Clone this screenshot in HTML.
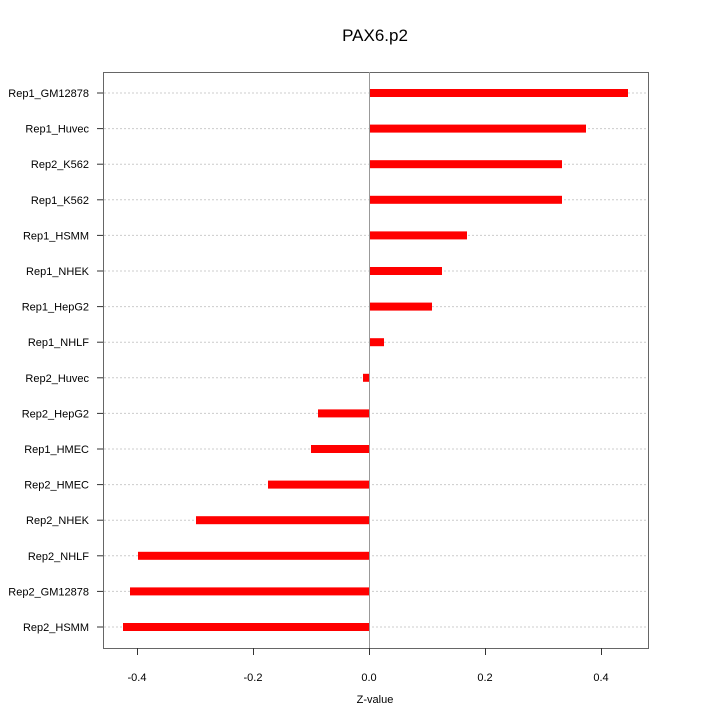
<!DOCTYPE html>
<html><head><style>body{margin:0;background:#fff}</style></head><body>
<svg width="720" height="720" xmlns="http://www.w3.org/2000/svg" font-family="Liberation Sans, sans-serif">
<rect width="720" height="720" fill="#fff"/>
<text x="375" y="41" font-size="17" text-anchor="middle">PAX6.p2</text>
<g stroke="#ccc" stroke-dasharray="2,2">
<line x1="104" x2="648" y1="93" y2="93"/><line x1="104" x2="648" y1="128.6" y2="128.6"/><line x1="104" x2="648" y1="164.2" y2="164.2"/><line x1="104" x2="648" y1="199.8" y2="199.8"/><line x1="104" x2="648" y1="235.4" y2="235.4"/><line x1="104" x2="648" y1="271" y2="271"/><line x1="104" x2="648" y1="306.6" y2="306.6"/><line x1="104" x2="648" y1="342.2" y2="342.2"/><line x1="104" x2="648" y1="377.8" y2="377.8"/><line x1="104" x2="648" y1="413.4" y2="413.4"/><line x1="104" x2="648" y1="449" y2="449"/><line x1="104" x2="648" y1="484.6" y2="484.6"/><line x1="104" x2="648" y1="520.2" y2="520.2"/><line x1="104" x2="648" y1="555.8" y2="555.8"/><line x1="104" x2="648" y1="591.4" y2="591.4"/><line x1="104" x2="648" y1="627" y2="627"/>
</g>
<g fill="#f00">
<rect x="369.5" y="89" width="258.5" height="8"/>
<rect x="369.5" y="124.6" width="216.5" height="8"/>
<rect x="369.5" y="160.2" width="192.5" height="8"/>
<rect x="369.5" y="195.8" width="192.5" height="8"/>
<rect x="369.5" y="231.4" width="97.5" height="8"/>
<rect x="369.5" y="267" width="72.5" height="8"/>
<rect x="369.5" y="302.6" width="62.5" height="8"/>
<rect x="369.5" y="338.2" width="14.5" height="8"/>
<rect x="363" y="373.8" width="6.5" height="8"/>
<rect x="318" y="409.4" width="51.5" height="8"/>
<rect x="311" y="445" width="58.5" height="8"/>
<rect x="268" y="480.6" width="101.5" height="8"/>
<rect x="196" y="516.2" width="173.5" height="8"/>
<rect x="138" y="551.8" width="231.5" height="8"/>
<rect x="130" y="587.4" width="239.5" height="8"/>
<rect x="123" y="623" width="246.5" height="8"/>
</g>
<g stroke="#333">
<line x1="97" x2="103" y1="93" y2="93"/><line x1="97" x2="103" y1="128.6" y2="128.6"/><line x1="97" x2="103" y1="164.2" y2="164.2"/><line x1="97" x2="103" y1="199.8" y2="199.8"/><line x1="97" x2="103" y1="235.4" y2="235.4"/><line x1="97" x2="103" y1="271" y2="271"/><line x1="97" x2="103" y1="306.6" y2="306.6"/><line x1="97" x2="103" y1="342.2" y2="342.2"/><line x1="97" x2="103" y1="377.8" y2="377.8"/><line x1="97" x2="103" y1="413.4" y2="413.4"/><line x1="97" x2="103" y1="449" y2="449"/><line x1="97" x2="103" y1="484.6" y2="484.6"/><line x1="97" x2="103" y1="520.2" y2="520.2"/><line x1="97" x2="103" y1="555.8" y2="555.8"/><line x1="97" x2="103" y1="591.4" y2="591.4"/><line x1="97" x2="103" y1="627" y2="627"/>
</g>
<g font-size="11" text-anchor="end">
<text x="89" y="97">Rep1_GM12878</text><text x="89" y="132.6">Rep1_Huvec</text><text x="89" y="168.2">Rep2_K562</text><text x="89" y="203.8">Rep1_K562</text><text x="89" y="239.4">Rep1_HSMM</text><text x="89" y="275">Rep1_NHEK</text><text x="89" y="310.6">Rep1_HepG2</text><text x="89" y="346.2">Rep1_NHLF</text><text x="89" y="381.8">Rep2_Huvec</text><text x="89" y="417.4">Rep2_HepG2</text><text x="89" y="453">Rep1_HMEC</text><text x="89" y="488.6">Rep2_HMEC</text><text x="89" y="524.2">Rep2_NHEK</text><text x="89" y="559.8">Rep2_NHLF</text><text x="89" y="595.4">Rep2_GM12878</text><text x="89" y="631">Rep2_HSMM</text>
</g>
<rect x="103.5" y="72.5" width="545" height="576" fill="none" stroke="#666" stroke-width="1"/>
<line x1="369.5" y1="72" x2="369.5" y2="648" stroke="#999" stroke-width="1"/>
<g stroke="#333">
<line x1="137.5" y1="648" x2="137.5" y2="655"/>
<line x1="253.5" y1="648" x2="253.5" y2="655"/>
<line x1="369.5" y1="648" x2="369.5" y2="655"/>
<line x1="485.5" y1="648" x2="485.5" y2="655"/>
<line x1="601.5" y1="648" x2="601.5" y2="655"/>
</g>
<g font-size="11" text-anchor="middle">
<text x="137" y="681">-0.4</text><text x="253" y="681">-0.2</text><text x="369" y="681">0.0</text><text x="485" y="681">0.2</text><text x="601" y="681">0.4</text>
<text x="375" y="703">Z-value</text>
</g>
</svg>
</body></html>
